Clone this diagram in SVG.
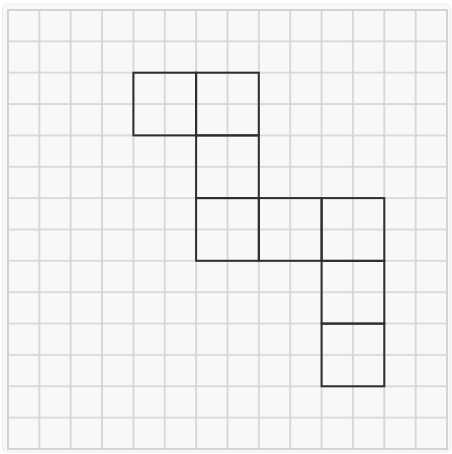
<svg xmlns="http://www.w3.org/2000/svg" width="452" height="454" viewBox="0 0 452 454">
<defs>
<style>
.sq{fill:none;stroke:#2e2e2e;stroke-width:2}
</style>
<pattern id="g" x="7" y="9" width="31.357" height="31.357" patternUnits="userSpaceOnUse">
<path d="M0 1H31.357M1 0V31.357" fill="none" stroke="#d2d2d2" stroke-width="1.6"/>
</pattern>
</defs>
<rect width="452" height="454" fill="#ffffff"/>
<rect x="2.5" y="4" width="448" height="448" rx="5" fill="#f8f8f8" stroke="#ececec" stroke-width="1"/>
<g id="grid">
<rect x="7" y="9" width="441" height="441" fill="url(#g)"/>
<rect x="8" y="10" width="439" height="439" fill="none" stroke="#d2d2d2" stroke-width="1.6"/>
</g>
<g id="shape">
<rect id="s1" class="sq" x="133.4" y="72.7" width="62.7" height="62.7"/>
<rect id="s2" class="sq" x="196.1" y="72.7" width="62.7" height="62.7"/>
<rect id="s3" class="sq" x="196.1" y="135.4" width="62.7" height="62.7"/>
<rect id="s4" class="sq" x="196.1" y="198.1" width="62.7" height="62.7"/>
<rect id="s5" class="sq" x="258.9" y="198.1" width="62.7" height="62.7"/>
<rect id="s6" class="sq" x="321.6" y="198.1" width="62.7" height="62.7"/>
<rect id="s7" class="sq" x="321.6" y="260.9" width="62.7" height="62.7"/>
<rect id="s8" class="sq" x="321.6" y="323.6" width="62.7" height="62.7"/>
</g>
</svg>
